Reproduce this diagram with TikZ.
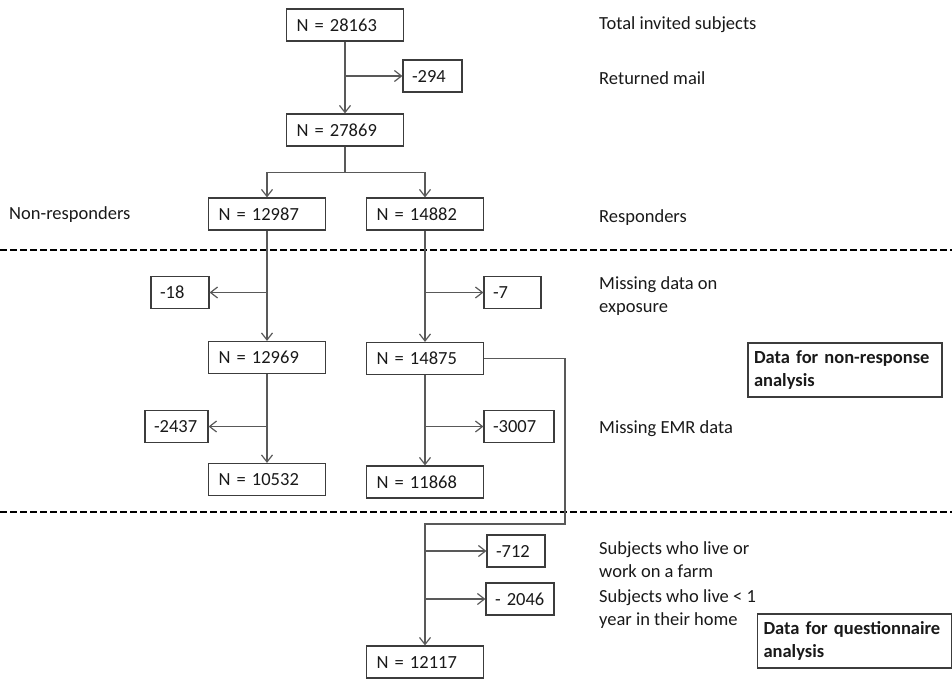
\documentclass[tikz,border=0pt]{standalone}
\usepackage{fontspec}
\setmainfont{Carlito}
\usetikzlibrary{positioning, arrows.meta, calc}
\definecolor{LineColor}{RGB}{89,89,89}
\definecolor{BoxColor}{RGB}{60,60,60}
\definecolor{TextColor}{RGB}{25,25,25}

\begin{document}
\begin{tikzpicture}[
    x=1pt, y=-1pt,
    every node/.style={font=\fontsize{18.5}{23}\selectfont, text=TextColor},
    >={Straight Barb[length=7pt, width=11pt]},
    countbox/.style={rectangle, draw=BoxColor, line width=1.2pt, text width=97pt, inner xsep=10pt, inner ysep=0pt, minimum height=32pt, align=left},
    lossbox/.style={rectangle, draw=BoxColor, line width=1.2pt, text width=#1, inner xsep=9pt, inner ysep=0pt, minimum height=32pt, align=left},
    setbox/.style={rectangle, draw=BoxColor, line width=1.2pt, text width=182pt, inner xsep=6pt, minimum height=54pt, align=left, font=\fontsize{18.5}{23}\selectfont\bfseries},
    note/.style={anchor=west, align=left, inner xsep=0pt},
    flow/.style={->, draw=LineColor, line width=1.2pt},
    link/.style={draw=LineColor, line width=1.2pt},
    divider/.style={draw=black, line width=2pt, dash pattern=on 7pt off 3pt},
]

\useasboundingbox (0,0) rectangle (952,683);

% Invited subjects
\node[countbox] (n0) at (345, 25) {N = 28163};
\node[lossbox=41pt] (c294) at (432.5, 76) {-294};
\node[countbox] (n1) at (345, 130) {N = 27869};

\draw[flow] (n0) -- (n1);
\draw[flow] (n0.south |- c294) -- (c294.west);

% Split in non-responders and responders
\node[countbox] (nl1) at (267, 214) {N = 12987};
\node[countbox] (nr1) at (425, 214) {N = 14882};

\coordinate (split) at ($(n1.south)+(0,26)$);
\draw[link] (n1.south) -- (split);
\draw[flow] (split) -| (nl1.north);
\draw[flow] (split) -| (nr1.north);

% Dividers
\draw[divider] (0,250) -- (952,250);
\draw[divider] (0,512) -- (952,512);

% Non-responders branch
\node[lossbox=40pt] (c18) at (180, 292.5) {-18};
\node[countbox] (nl2) at (267, 357.5) {N = 12969};
\node[lossbox=45pt] (c2437) at (176.5, 426.5) {-2437};
\node[countbox] (nl3) at (267, 479.5) {N = 10532};

\draw[flow] (nl1) -- (nl2);
\draw[flow] (nl1.south |- c18) -- (c18.east);
\draw[flow] (nl2) -- (nl3);
\draw[flow] (nl2.south |- c2437) -- (c2437.east);

% Responders branch
\node[lossbox=39pt] (c7) at (512.5, 292.5) {-7};
\node[countbox] (nr2) at (425, 358.5) {N = 14875};
\node[lossbox=52pt] (c3007) at (519, 426.5) {-3007};
\node[countbox] (nr3) at (425, 482) {N = 11868};

\draw[flow] (nr1) -- (nr2);
\draw[flow] (nr1.south |- c7) -- (c7.west);
\draw[flow] (nr2) -- (nr3);
\draw[flow] (nr2.south |- c3007) -- (c3007.west);

% Questionnaire branch
\node[lossbox=40pt] (c712) at (516, 551) {-712};
\node[lossbox=50pt] (c2046) at (520, 599) {-~2046};
\node[countbox] (n4) at (425, 662) {N = 12117};

\coordinate (bend) at (565, 524);
\draw[flow] (nr2.east) -| (bend) -| (n4.north);
\draw[flow] (n4.north |- c712) -- (c712.west);
\draw[flow] (n4.north |- c2046) -- (c2046.west);

% Side notes
\node[note] at (9, 215) {Non-responders};
\node[note] at (599, 25) {Total invited subjects};
\node[note] at (599, 78) {Returned mail};
\node[note] at (599, 218) {Responders};
\node[note] at (599, 296.5) {Missing data on\\exposure};
\node[note] at (599, 429) {Missing EMR data};
\node[note] at (599, 559.5) {Subjects who live or\\work on a farm};
\node[note] at (599, 609.5) {Subjects who live < 1\\year in their home};

% Data sets
\node[setbox] (nonresp) at (845, 370) {Data for non-response\\analysis};
\node[setbox] (quest) at (854.5, 641) {Data for questionnaire\\analysis};

\end{tikzpicture}
\end{document}
